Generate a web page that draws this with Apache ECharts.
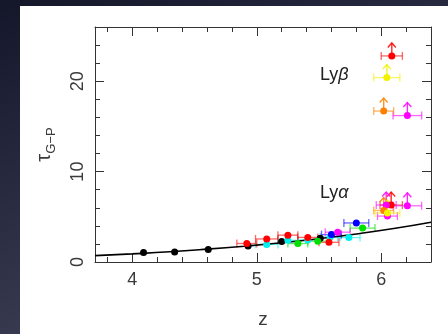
<!DOCTYPE html>
<html><head><meta charset="utf-8">
<script src="https://cdn.jsdelivr.net/npm/echarts@6/dist/echarts.min.js"></script>
<style>html,body{margin:0;padding:0;background:#1a1c2e;overflow:hidden}#c{width:448px;height:334px}</style>
</head><body><div id="c"></div>
<script>
// ---- axis ticks / labels ----
const xMinorTicks = [3.8, 4.0, 4.2, 4.4, 4.6, 4.8, 5.0, 5.2, 5.4, 5.6, 5.8, 6.0, 6.2, 6.4];
const xMajorTicks = [4, 5, 6];
const yMinorTicks = [2, 4, 6, 8, 12, 14, 16, 18, 22, 24];
const yMajorTicks = [0, 10, 20];

// ---- model curve ----
const curveZ   = [3.7, 4.0, 4.3, 4.6, 4.9, 5.2, 5.5, 5.8, 6.1, 6.4];
const curveTau = [0.70, 0.90, 1.13, 1.42, 1.75, 2.13, 2.58, 3.10, 3.70, 4.40];

// ---- points: [z, tau, half-width of z error, lower limit flag] ----
const blackPts   = [[4.09, 1.05, 0, 0], [4.34, 1.11, 0, 0], [4.61, 1.37, 0, 0], [4.93, 1.77, 0, 0], [5.20, 2.27, 0, 0], [5.51, 2.62, 0, 0]];
const redPts     = [[4.92, 2.05, 0.08, 0], [5.08, 2.55, 0.09, 0], [5.25, 2.97, 0.08, 0], [5.41, 2.72, 0.08, 0], [5.58, 2.18, 0.08, 0],
                    [6.08, 6.30, 0.09, 1], [6.085, 22.8, 0.085, 1]];
const cyanPts    = [[5.08, 1.95, 0.09, 0], [5.25, 2.40, 0.08, 0], [5.41, 2.44, 0.08, 0], [5.59, 2.77, 0.08, 0], [5.74, 2.70, 0.09, 0]];
const greenPts   = [[5.33, 2.04, 0.08, 0], [5.49, 2.30, 0.08, 0], [5.85, 3.75, 0.10, 0]];
const bluePts    = [[5.60, 3.03, 0.08, 0], [5.80, 4.32, 0.10, 0]];
const magentaPts = [[5.65, 3.30, 0.10, 0], [6.04, 6.30, 0.08, 1], [6.05, 5.08, 0.08, 0], [6.21, 6.22, 0.115, 1], [6.21, 16.2, 0.115, 1]];
const orangePts  = [[6.02, 5.70, 0.08, 1], [6.02, 16.7, 0.08, 1]];
const yellowPts  = [[6.05, 5.42, 0.10, 1], [6.045, 20.4, 0.105, 1]];

const groups = [
  ['black', blackPts, '#000000'],
  ['cyan', cyanPts, '#00f0f0'],
  ['green', greenPts, '#00e000'],
  ['red', redPts, '#ff0000'],
  ['blue', bluePts, '#0000ff'],
  ['magenta', magentaPts, '#ff00ff'],
  ['orange', orangePts, '#ff8000'],
  ['yellow', yellowPts, '#f2f200']
];

const FONT = 'Liberation Sans';
const AX = '#333333';
const TX = '#3a3a3a';

function xAxisDef(pos, ticks, len, showLine, labels) {
  return {
    type: 'value', position: pos, min: 3.7, max: 6.4,
    axisLine: { show: showLine, onZero: false, lineStyle: { color: AX, width: 1 } },
    axisTick: { show: true, inside: true, length: len, customValues: ticks, lineStyle: { color: AX, width: 1 } },
    axisLabel: labels ? { show: true, customValues: labels, margin: 9, color: TX, fontFamily: FONT, fontSize: 18 } : { show: false },
    splitLine: { show: false }
  };
}
function yAxisDef(pos, ticks, len, showLine, labels) {
  return {
    type: 'value', position: pos, min: 0, max: 26,
    axisLine: { show: showLine, onZero: false, lineStyle: { color: AX, width: 1 } },
    axisTick: { show: true, inside: true, length: len, customValues: ticks, lineStyle: { color: AX, width: 1 } },
    axisLabel: labels ? { show: true, customValues: labels, rotate: 90, margin: 8, color: TX, fontFamily: FONT, fontSize: 18 } : { show: false },
    splitLine: { show: false }
  };
}

const xAxes = [
  xAxisDef('bottom', xMinorTicks, 5, true, xMajorTicks),
  xAxisDef('bottom', xMajorTicks, 9, false, null),
  xAxisDef('top', xMinorTicks, 5, true, null),
  xAxisDef('top', xMajorTicks, 9, false, null)
];
xAxes[0].name = 'z';
xAxes[0].nameLocation = 'middle';
xAxes[0].nameGap = 48;
xAxes[0].nameTextStyle = { color: TX, fontFamily: FONT, fontSize: 19 };

const yAxes = [
  yAxisDef('left', yMinorTicks, 5, true, yMajorTicks),
  yAxisDef('left', yMajorTicks, 9, false, null),
  yAxisDef('right', yMinorTicks, 5, true, null),
  yAxisDef('right', yMajorTicks, 9, false, null)
];
yAxes[0].name = '{t|τ}{s|G−P}';
yAxes[0].nameLocation = 'middle';
yAxes[0].nameRotate = 90;
yAxes[0].nameGap = 37;
yAxes[0].nameTextStyle = {
  color: TX, fontFamily: FONT,
  rich: {
    t: { fontSize: 20, color: TX, fontFamily: FONT, lineHeight: 28, verticalAlign: 'middle' },
    s: { fontSize: 13, color: TX, fontFamily: FONT, lineHeight: 28, verticalAlign: 'bottom' }
  }
};

function makeRender(color) {
  return function (params, api) {
    const z = api.value(0), t = api.value(1), dz = api.value(2), lim = api.value(3);
    const children = [];
    const c = api.coord([z, t]);
    if (dz > 0) {
      const a = api.coord([z - dz, t]);
      const b = api.coord([z + dz, t]);
      const st = { stroke: color, lineWidth: 1.3, opacity: 0.6 };
      children.push({ type: 'line', shape: { x1: a[0], y1: a[1], x2: b[0], y2: b[1] }, style: st });
      children.push({ type: 'line', shape: { x1: a[0], y1: a[1] - 4, x2: a[0], y2: a[1] + 4 }, style: st });
      children.push({ type: 'line', shape: { x1: b[0], y1: b[1] - 4, x2: b[0], y2: b[1] + 4 }, style: st });
    }
    if (lim) {
      const st2 = { stroke: color, lineWidth: 1.4, opacity: 0.85, fill: null };
      children.push({ type: 'line', shape: { x1: c[0], y1: c[1], x2: c[0], y2: c[1] - 13 }, style: st2 });
      children.push({ type: 'polyline', shape: { points: [[c[0] - 4, c[1] - 8.5], [c[0], c[1] - 13], [c[0] + 4, c[1] - 8.5]] }, style: st2 });
    }
    return { type: 'group', children: children };
  };
}

const series = [{
  type: 'line', name: 'model', xAxisIndex: 0, yAxisIndex: 0,
  data: curveZ.map((z, i) => [z, curveTau[i]]),
  smooth: true, showSymbol: false, symbol: 'none',
  lineStyle: { color: '#000', width: 1.6 }, z: 5, silent: true
}];
groups.forEach(g => {
  series.push({
    type: 'custom', name: g[0] + '-bars', xAxisIndex: 0, yAxisIndex: 0,
    data: g[1], encode: { x: 0, y: 1 }, renderItem: makeRender(g[2]), z: 3, silent: true
  });
});
groups.forEach(g => {
  series.push({
    type: 'scatter', name: g[0], xAxisIndex: 0, yAxisIndex: 0,
    data: g[1].map(p => [p[0], p[1]]), symbol: 'circle', symbolSize: 7,
    itemStyle: { color: g[2], opacity: 1 }, z: 6, silent: true
  });
});

const chart = echarts.init(document.getElementById('c'), null, { renderer: 'canvas' });
chart.setOption({
  animation: false,
  backgroundColor: { type: 'linear', x: 0, y: 0, x2: 0.3, y2: 1, colorStops: [{ offset: 0, color: '#14162a' }, { offset: 1, color: '#3c3e55' }] },
  grid: { left: 95, right: 17, top: 27, bottom: 72, containLabel: false, outerBoundsMode: 'none' },
  graphic: [
    { type: 'rect', left: 20, top: 6, z: -100, shape: { width: 428, height: 328 }, style: { fill: '#ffffff' } },
    { type: 'text', x: 320, y: 75, z: 10, style: { text: '{a|Ly}{b|β}', textVerticalAlign: 'middle',
        rich: { a: { fontSize: 18, fontFamily: FONT, fill: '#222' }, b: { fontSize: 18, fontFamily: FONT, fontStyle: 'italic', fill: '#222' } } } },
    { type: 'text', x: 320, y: 193, z: 10, style: { text: '{a|Ly}{b|α}', textVerticalAlign: 'middle',
        rich: { a: { fontSize: 18, fontFamily: FONT, fill: '#222' }, b: { fontSize: 18, fontFamily: FONT, fontStyle: 'italic', fill: '#222' } } } }
  ],
  xAxis: xAxes,
  yAxis: yAxes,
  series: series
});
</script>
</body></html>
